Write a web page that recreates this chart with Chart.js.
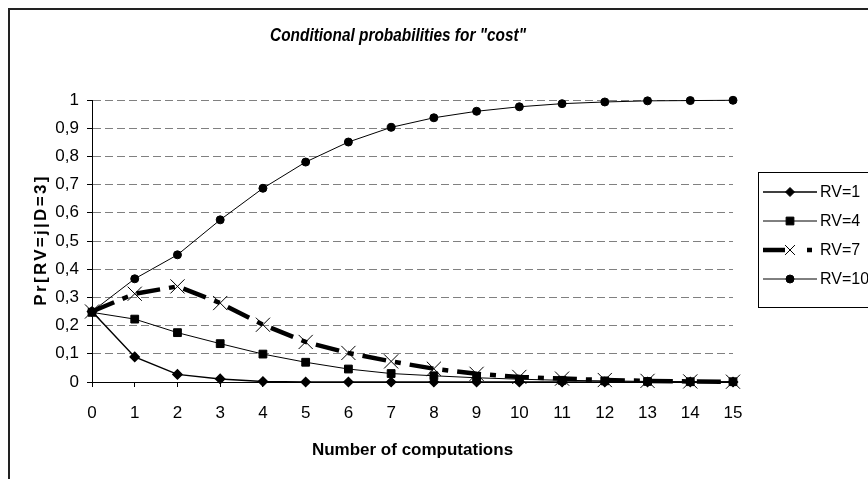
<!DOCTYPE html>
<html>
<head>
<meta charset="utf-8">
<script src="https://cdn.jsdelivr.net/npm/chart.js@4.4.1/dist/chart.umd.min.js"></script>
<style>
  html, body { margin: 0; padding: 0; background: #fff; }
  #wrap { width: 868px; height: 479px; }
</style>
</head>
<body>
<div id="wrap"><canvas id="probChart" width="868" height="479"></canvas></div>
<script>
// x categories: number of computations
const computations = ['0', '1', '2', '3', '4', '5', '6', '7', '8', '9', '10', '11', '12', '13', '14', '15'];

// Pr[RV=j | D=3]
const rv1  = [0.25, 0.089, 0.027, 0.011, 0.002, 0, 0, 0, 0, 0, 0, 0, 0, 0, 0, 0];
const rv4  = [0.247, 0.223, 0.175, 0.136, 0.099, 0.07, 0.046, 0.03, 0.022, 0.015, 0.01, 0.006, 0.004, 0.002, 0.001, 0.001];
const rv7  = [0.25, 0.313, 0.339, 0.28, 0.203, 0.142, 0.103, 0.073, 0.047, 0.029, 0.018, 0.012, 0.007, 0.004, 0.002, 0.001];
const rv10 = [0.25, 0.366, 0.451, 0.575, 0.687, 0.78, 0.851, 0.903, 0.937, 0.96, 0.976, 0.987, 0.993, 0.997, 0.998, 0.999];

const seriesLabels = ['RV=1', 'RV=4', 'RV=7', 'RV=10'];
const yTickLabels = ['0', '0,1', '0,2', '0,3', '0,4', '0,5', '0,6', '0,7', '0,8', '0,9', '1'];

const titleText = 'Conditional probabilities for "cost"';
const yTitleText = 'Pr[RV=j|D=3]';
const fontFamily = "'Liberation Sans', Arial, sans-serif";

// white page, outer chart frame (runs off right/bottom), chart title and y title
const framePlugin = {
    id: 'frame',
    beforeDraw(chart) {
        const c = chart.ctx;
        c.save();
        c.fillStyle = '#fff';
        c.fillRect(0, 0, chart.width, chart.height);
        c.strokeStyle = '#222';
        c.lineWidth = 2;
        c.strokeRect(9, 9, 1000, 1000);
        c.restore();
    },
    afterDraw(chart) {
        const c = chart.ctx;
        c.save();
        c.fillStyle = '#000';
        // the original title is tall and condensed
        c.translate(398, 41);
        c.scale(0.88, 1);
        c.font = 'italic bold 17.5px ' + fontFamily;
        c.textAlign = 'center';
        c.textBaseline = 'alphabetic';
        c.fillText(titleText, 0, 0);
        c.restore();

        // y title is letter-spaced in the original
        c.save();
        c.fillStyle = '#000';
        const area = chart.chartArea;
        c.translate(41, (area.top + area.bottom) / 2);
        c.rotate(-Math.PI / 2);
        c.font = 'bold 17px ' + fontFamily;
        c.letterSpacing = '2.3px';
        c.textAlign = 'center';
        c.textBaseline = 'middle';
        c.fillText(yTitleText, 1, 0);
        c.restore();
    }
};

// Excel style legend: line sample with marker, boxed, on the right
const legendPlugin = {
    id: 'excelLegend',
    afterDraw(chart) {
        const c = chart.ctx;
        c.save();
        c.strokeStyle = '#000';
        c.lineWidth = 1;
        c.strokeRect(758.5, 172.5, 200, 135);
        chart.data.datasets.forEach((ds, i) => {
            const y = 192 + i * 29;
            c.save();
            c.strokeStyle = '#000';
            c.lineWidth = ds.borderWidth;
            c.setLineDash(ds.legendDash || []);
            c.beginPath();
            c.moveTo(763, y);
            c.lineTo(817, y);
            c.stroke();
            c.restore();
            c.fillStyle = '#000';
            c.strokeStyle = '#000';
            c.lineWidth = 1;
            Chart.helpers.drawPoint(c, {
                pointStyle: ds.pointStyle,
                radius: ds.legendRadius,
                borderWidth: 1,
                rotation: 0
            }, 790, y);
            c.fillStyle = '#000';
            c.font = '16px ' + fontFamily;
            c.textBaseline = 'middle';
            c.textAlign = 'left';
            c.fillText(ds.label, 820, y + 1);
        });
        c.restore();
    }
};

const ctx = document.getElementById('probChart').getContext('2d');

const probChart = new Chart(ctx, {
    type: 'line',
    data: {
        labels: computations,
        datasets: [{
            label: seriesLabels[0],
            data: rv1,
            borderColor: '#000',
            borderWidth: 1.5,
            pointStyle: 'rectRot',
            pointRadius: 4.5,
            pointBackgroundColor: '#000',
            pointBorderColor: '#000',
            legendRadius: 4.5,
            order: 4
        }, {
            label: seriesLabels[1],
            data: rv4,
            borderColor: '#000',
            borderWidth: 1,
            pointStyle: 'rect',
            pointRadius: 5.5,
            pointBackgroundColor: '#000',
            pointBorderColor: '#000',
            legendRadius: 5.5,
            order: 3
        }, {
            label: seriesLabels[2],
            data: rv7,
            borderColor: '#000',
            borderWidth: 4.5,
            borderDash: [24, 9, 6, 9],
            legendDash: [22, 22, 5, 30],
            pointStyle: 'crossRot',
            pointRadius: 10,
            pointBorderWidth: 1,
            pointBackgroundColor: '#000',
            pointBorderColor: '#000',
            legendRadius: 7,
            order: 2
        }, {
            label: seriesLabels[3],
            data: rv10,
            borderColor: '#000',
            borderWidth: 1,
            pointStyle: 'circle',
            pointRadius: 4,
            pointBackgroundColor: '#000',
            pointBorderColor: '#000',
            legendRadius: 4,
            order: 1
        }]
    },
    options: {
        responsive: false,
        animation: false,
        clip: false,
        layout: {
            padding: { left: 0, top: 100, right: 135, bottom: 0 }
        },
        elements: {
            line: { tension: 0 }
        },
        plugins: {
            legend: { display: false },
            title: { display: false },
            tooltip: { enabled: false }
        },
        scales: {
            x: {
                offset: false,
                afterFit: (scale) => { scale.height = 97; },
                grid: {
                    drawOnChartArea: false,
                    drawTicks: true,
                    tickLength: 5,
                    tickColor: '#000',
                    tickWidth: 1
                },
                border: { color: '#000', width: 1 },
                ticks: {
                    color: '#000',
                    padding: 16,
                    maxRotation: 0,
                    autoSkip: false,
                    font: { family: fontFamily, size: 17 }
                },
                title: {
                    display: true,
                    text: 'Number of computations',
                    color: '#000',
                    font: { family: fontFamily, size: 17, weight: 'bold' },
                    padding: { top: 0, bottom: 18 }
                }
            },
            y: {
                min: 0,
                max: 1,
                afterFit: (scale) => { scale.width = 92; },
                grid: {
                    color: (c) => (c.tick && c.tick.value === 0) ? 'rgba(0,0,0,0)' : '#808080',
                    lineWidth: 1,
                    drawTicks: true,
                    tickLength: 5,
                    tickColor: '#000',
                    tickWidth: 1
                },
                border: { color: '#000', width: 1, dash: [8, 4] },
                ticks: {
                    stepSize: 0.1,
                    color: '#000',
                    padding: 8,
                    font: { family: fontFamily, size: 17 },
                    callback: (value, index) => yTickLabels[index]
                },
                title: { display: false }
            }
        }
    },
    plugins: [framePlugin, legendPlugin]
});
</script>
</body>
</html>
